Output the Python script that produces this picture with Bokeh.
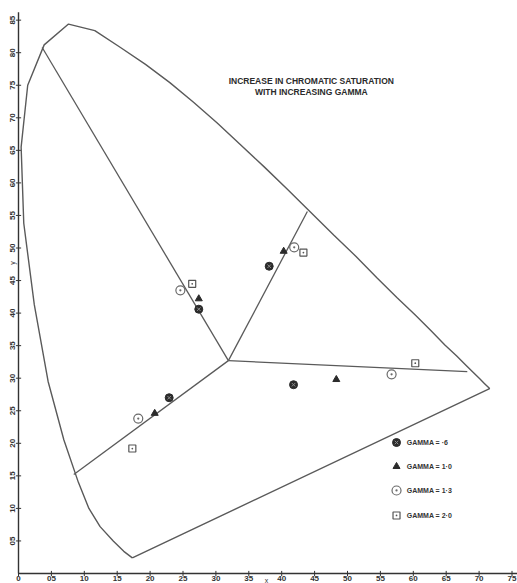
import numpy as np
from bokeh.plotting import figure
from bokeh.models import Range1d
from bokeh.core.properties import value
from bokeh.embed import file_html
from bokeh.resources import INLINE

# Spectrum locus, read along the curve from the violet end round to the red end
locus_x = [0.173, 0.160, 0.144, 0.124, 0.107, 0.091, 0.069, 0.045, 0.024, 0.008,
           0.004, 0.014, 0.039, 0.076, 0.116, 0.155, 0.193, 0.230, 0.266, 0.302,
           0.337, 0.373, 0.409, 0.444, 0.479, 0.513, 0.545, 0.575, 0.603, 0.627,
           0.648, 0.666, 0.680, 0.692, 0.701, 0.708, 0.716]
locus_y = [0.024, 0.034, 0.050, 0.072, 0.100, 0.140, 0.205, 0.295, 0.413, 0.538,
           0.655, 0.750, 0.812, 0.844, 0.834, 0.808, 0.782, 0.754, 0.724, 0.692,
           0.659, 0.625, 0.590, 0.555, 0.520, 0.487, 0.454, 0.424, 0.397, 0.373,
           0.351, 0.334, 0.320, 0.308, 0.299, 0.292, 0.284]

# Neutral point and the ends of the four hue boundaries on the locus
white_x, white_y = 0.319, 0.327
arm_x = [0.036, 0.439, 0.682, 0.084]
arm_y = [0.808, 0.556, 0.310, 0.152]

# Measured chromaticities, one list per gamma (green, yellow, red, blue directions)
g06_x = [0.274, 0.381, 0.418, 0.229]
g06_y = [0.406, 0.472, 0.290, 0.270]
g10_x = [0.274, 0.403, 0.483, 0.207]
g10_y = [0.422, 0.495, 0.298, 0.246]
g13_x = [0.246, 0.419, 0.567, 0.182]
g13_y = [0.435, 0.501, 0.306, 0.238]
g20_x = [0.264, 0.433, 0.603, 0.173]
g20_y = [0.445, 0.493, 0.323, 0.192]

gamma_labels = ["GAMMA = ·6", "GAMMA = 1·0", "GAMMA = 1·3", "GAMMA = 2·0"]

x_ticks = [0.0, 0.05, 0.10, 0.15, 0.20, 0.25, 0.30, 0.35, 0.40, 0.45, 0.50,
           0.55, 0.60, 0.65, 0.70, 0.75]
x_tick_labels = ["0", "05", "10", "15", "20", "25", "30", "35", "40", "45", "50",
                 "55", "60", "65", "70", "75"]
y_ticks = [0.05, 0.10, 0.15, 0.20, 0.25, 0.30, 0.35, 0.40, 0.45, 0.50, 0.55,
           0.60, 0.65, 0.70, 0.75, 0.80, 0.85]
y_tick_labels = ["05", "10", "15", "20", "25", "30", "35", "40", "45", "50", "55",
                 "60", "65", "70", "75", "80", "85"]

title_lines = ["INCREASE IN CHROMATIC SATURATION", "WITH INCREASING GAMMA"]

W, H = 517, 583
X0, Y0, SX, SY = 18, 573, 658.0, 651.0   # origin in pixels and pixels per unit

p = figure(width=W, height=H, output_backend="svg", toolbar_location=None,
           x_range=Range1d(-X0 / SX, (W - X0) / SX),
           y_range=Range1d(-(H - Y0) / SY, Y0 / SY),
           x_axis_location=None, y_axis_location=None,
           min_border=0, outline_line_color=None)
p.grid.visible = False
p.background_fill_color = "white"
p.border_fill_color = "white"

font = value("Liberation Sans")

# hand-ruled axes
p.line([0, 0], [0, 0.862], line_color="#333333", line_width=1.4)
p.line([0, 0.76], [0, 0.0], line_color="#333333", line_width=1.4)
p.segment(x0=x_ticks, y0=[-0.004] * len(x_ticks), x1=x_ticks, y1=[0.004] * len(x_ticks),
          line_color="#333333", line_width=1)
p.segment(x0=[-0.004] * len(y_ticks), y0=y_ticks, x1=[0.004] * len(y_ticks), y1=y_ticks,
          line_color="#333333", line_width=1)
p.text(x=x_ticks, y=[-0.004] * len(x_ticks), text=x_tick_labels,
       text_font=font, text_font_size="8px", text_font_style="bold",
       text_color="#333333", text_align="center", text_baseline="top")
p.text(x=[-0.0085] * len(y_ticks), y=y_ticks, text=y_tick_labels, angle=np.pi / 2,
       text_font=font, text_font_size="8px", text_font_style="bold",
       text_color="#333333", text_align="center", text_baseline="middle")
p.text(x=[0.377], y=[-0.006], text=["x"], text_font=font, text_font_size="7px",
       text_color="#333333", text_align="center", text_baseline="top")
p.text(x=[-0.0085], y=[0.477], text=["y"], angle=np.pi / 2, text_font=font,
       text_font_size="7px", text_color="#333333", text_align="center",
       text_baseline="middle")

# spectrum locus closed by the purple line
p.line(locus_x + [locus_x[0]], locus_y + [locus_y[0]], line_color="#5a5a5a",
       line_width=1.4)

# hue boundaries from the neutral point
p.segment(x0=[white_x] * 4, y0=[white_y] * 4, x1=arm_x, y1=arm_y,
          line_color="#5a5a5a", line_width=1.3)

# data points
p.scatter(g06_x, g06_y, marker="circle", size=8, fill_color="#2b2b2b",
          line_color="#2b2b2b")
p.scatter(g06_x, g06_y, marker="x", size=5, line_color="#8a8a8a", line_width=1)
p.scatter(g10_x, g10_y, marker="triangle", size=7, fill_color="#2b2b2b",
          line_color="#2b2b2b")
p.scatter(g13_x, g13_y, marker="circle_dot", size=9, fill_color="white",
          line_color="#6a6a6a", line_width=1.2)
p.scatter(g20_x, g20_y, marker="square_dot", size=7, fill_color="white",
          line_color="#555555", line_width=1.2)

# key
key_y = [0.2012, 0.1644, 0.1275, 0.0891]
key_x = 0.5745
p.scatter([key_x], [key_y[0]], marker="circle", size=8, fill_color="#2b2b2b",
          line_color="#2b2b2b")
p.scatter([key_x], [key_y[0]], marker="x", size=5, line_color="#8a8a8a", line_width=1)
p.scatter([key_x], [key_y[1]], marker="triangle", size=7, fill_color="#2b2b2b",
          line_color="#2b2b2b")
p.scatter([key_x], [key_y[2]], marker="circle_dot", size=9, fill_color="white",
          line_color="#6a6a6a", line_width=1.2)
p.scatter([key_x], [key_y[3]], marker="square_dot", size=7, fill_color="white",
          line_color="#555555", line_width=1.2)
p.text(x=[key_x + 0.0155] * 4, y=key_y, text=gamma_labels, text_font=font,
       text_font_size="7px", text_font_style="bold", text_color="#333333",
       text_align="left", text_baseline="middle")

# title block
p.text(x=[0.445, 0.445], y=[0.756, 0.739], text=title_lines, text_font=font,
       text_font_size="8.5px", text_font_style="bold", text_color="#2b2b2b",
       text_align="center", text_baseline="middle")

open("out.html", "w").write(file_html(p, INLINE))
